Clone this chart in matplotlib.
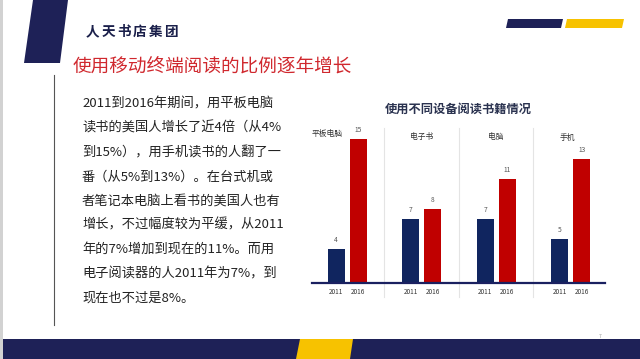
import matplotlib
matplotlib.use("Agg")
import matplotlib.pyplot as plt
from matplotlib.patches import Polygon, Rectangle
import numpy as np

plt.rcParams['font.family'] = ['Noto Sans CJK SC', 'DejaVu Sans']

# ---- data ----
categories = ['平板电脑', '电子书', '电脑', '手机']
years = ['2011', '2016']
values_2011 = [4, 7, 7, 5]
values_2016 = [15, 8, 11, 13]
chart_title = '使用不同设备阅读书籍情况'
slide_title = '使用移动终端阅读的比例逐年增长'
logo_text = '人天书店集团'
body_lines = [
    '2011到2016年期间，用平板电脑',
    '读书的美国人增长了近4倍（从4%',
    '到15%），用手机读书的人翻了一',
    '番（从5%到13%）。在台式机或',
    '者笔记本电脑上看书的美国人也有',
    '增长，不过幅度较为平缓，从2011',
    '年的7%增加到现在的11%。而用',
    '电子阅读器的人2011年为7%，到',
    '现在也不过是8%。',
]

NAVY = '#1e2157'
YELLOW = '#f7c200'
BAR_NAVY = '#10255f'
BAR_RED = '#c00000'

fig = plt.figure(figsize=(6.4, 3.59), dpi=100)
fig.patch.set_facecolor('white')

# background slide decoration axes (pixel coords)
bg = fig.add_axes([0, 0, 1, 1])
bg.set_xlim(0, 640)
bg.set_ylim(359, 0)
bg.axis('off')

bg.add_patch(Rectangle((0, 0), 2.5, 359, color='#d2d2d2', lw=0))
bg.add_patch(Polygon([[33, 0], [68, 0], [60, 63], [24, 63]], closed=True, color=NAVY, lw=0))
bg.add_patch(Polygon([[508, 19], [563, 19], [561, 28], [506, 28]], closed=True, color=NAVY, lw=0))
bg.add_patch(Polygon([[567, 19], [624, 19], [622, 28], [565, 28]], closed=True, color=YELLOW, lw=0))
bg.add_patch(Rectangle((2.5, 339), 640, 20, color=NAVY, lw=0))
bg.add_patch(Polygon([[300, 339], [353, 339], [350, 359], [296, 359]], closed=True, color=YELLOW, lw=0))
bg.plot([54, 54], [75, 325], color='#555555', lw=0.8)

for i, ch in enumerate(logo_text):
    bg.text(86 + i * 15.6, 32, ch, fontsize=9.8, fontweight='bold', color='#1a1f4a',
            va='center', ha='left')
bg.text(73, 68, slide_title, fontsize=13.4, color='#d0282e', va='center', ha='left')
bg.text(600, 337, '7', fontsize=3.5, color='#999999', va='center', ha='center')

for i, line in enumerate(body_lines):
    bg.text(82, 104 + i * 24.25, line, fontsize=9.5, color='#222222',
            va='center', ha='left')

bg.text(458, 109, chart_title, fontsize=8.8, fontweight='bold', color='#2b3350',
        va='center', ha='center')

# ---- chart ----
ax = fig.add_axes([312 / 640, (359 - 283) / 359, 293 / 640, 159 / 359])
ax.set_facecolor('none')
ax.set_xlim(-0.47, 3.46)
ax.set_ylim(0.6, 16.5)
for s in ax.spines.values():
    s.set_visible(False)
ax.set_xticks([])
ax.set_yticks([])

x = np.arange(len(categories))
off = 0.1477
w = 0.228
ax.bar(x - off, values_2011, width=w, color=BAR_NAVY, bottom=0, zorder=2)
ax.bar(x + off, values_2016, width=w, color=BAR_RED, bottom=0, zorder=2)

ax.axhline(0.6, color='#1a2060', lw=1.6, zorder=3, clip_on=False)

for sep in x[:-1] + 0.5:
    ax.plot([sep, sep], [-0.8, 16.1], color='#e4e4e4', lw=0.8, zorder=1, clip_on=False)

for xi, v in zip(x - off, values_2011):
    ax.text(xi, v + 0.9, str(v), fontsize=4.8, color='#555555', ha='center', va='center')
    ax.text(xi, -0.3, years[0], fontsize=4.6, color='#333333', ha='center', va='center', clip_on=False)
for xi, v in zip(x + off, values_2016):
    ax.text(xi, v + 0.9, str(v), fontsize=4.8, color='#555555', ha='center', va='center')
    ax.text(xi, -0.3, years[1], fontsize=4.6, color='#333333', ha='center', va='center', clip_on=False)

label_dx = [-0.27, 0.0, 0.0, -0.05]
label_y = [15.5, 15.2, 15.2, 15.1]
for xi, name, dx, ly in zip(x, categories, label_dx, label_y):
    ax.text(xi + dx, ly, name, fontsize=5.6, color='#333333', ha='center', va='center')

fig.savefig('out.png', dpi=100, facecolor='white')
